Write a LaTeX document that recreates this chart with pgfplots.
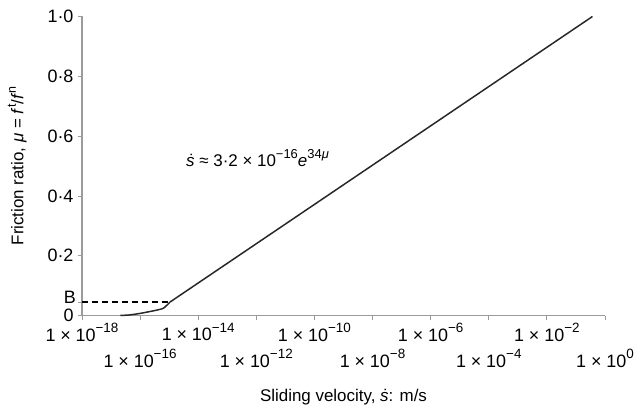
\documentclass[border=0pt]{standalone}
\usepackage{fontspec}
\setmainfont{Liberation Sans}
\usepackage{pgfplots}
\pgfplotsset{compat=1.18}
\definecolor{axisgray}{RGB}{155,155,155}
\definecolor{linegray}{RGB}{40,40,40}
% 1 x 10^k tick label in text font
\newcommand\sci[1]{1\hspace{0.27em}×\hspace{0.27em}10\raisebox{0.48em}{\fontsize{13.5}{13}\selectfont #1}}
\begin{document}
\begin{tikzpicture}
\begin{axis}[
  scale only axis,
  width=523bp, height=299bp,
  xmode=log,
  xmin=1e-18, xmax=1,
  ymin=0, ymax=1,
  axis lines*=left,
  axis line style={axisgray, line width=1.2pt},
  every tick/.style={axisgray, line width=0.8pt},
  tick align=outside,
  major tick length=4bp,
  minor tick num=0,
  xtick={1e-18,1e-14,1e-10,1e-6,1e-2},
  xticklabels={\sci{−18},\sci{−14},\sci{−10},\sci{−6},\sci{−2}},
  extra x ticks={1e-16,1e-12,1e-8,1e-4,1},
  extra x tick labels={\sci{−16},\sci{−12},\sci{−8},\sci{−4},\sci{0}},
  extra x tick style={tick label style={yshift=-26.5bp}},
  ytick={0,0.045,0.2,0.4,0.6,0.8,1.0},
  yticklabels={0,,0·2,0·4,0·6,0·8,1·0},
  tick label style={font=\fontsize{18}{18}\selectfont, text=black},
  yticklabel style={xshift=-1bp},
  xlabel={Sliding velocity, \textit{\.{s}}: m/s},
  ylabel={Friction ratio, \textit{μ} = \textit{f}\raisebox{0.45em}{\fontsize{12.5}{12}\selectfont t}/\textit{f}\raisebox{0.45em}{\fontsize{12.5}{12}\selectfont n}},
  label style={font=\fontsize{17}{17}\selectfont},
  xlabel style={yshift=-11bp},
  ylabel style={yshift=14bp},
  clip=false,
]
\coordinate (sw) at (rel axis cs:0,0);
\coordinate (ne) at (rel axis cs:1,1);
% label B, set a little above its tick as in the original
\node[anchor=east, font=\fontsize{18}{18}\selectfont, inner sep=0pt]
  at ([shift={(-6bp,4.5bp)}]axis cs:1e-18,0.045) {B};
% dashed reference line to B
\addplot[black, line width=1.2pt, dash pattern=on 6bp off 4bp] coordinates {
  (1e-18,0.045) (1.07e-15,0.045)
};
% friction curve
\addplot[linegray, line width=1.5pt, smooth, tension=0.3] coordinates {
  (2.1e-17,0.0)
  (4.5e-17,0.002)
  (1.0e-16,0.007)
  (3.0e-16,0.016)
  (6.3e-16,0.024)
  (1.07e-15,0.045)
};
\addplot[linegray, line width=1.5pt] coordinates {
  (1.07e-15,0.045)
  (3.7e-1,1.0)
};
\node[font=\fontsize{17}{17}\selectfont] at (axis cs:1.1e-12,0.527)
  {\textit{\.{s}} ≈ 3·2 × 10\raisebox{0.48em}{\fontsize{13}{13}\selectfont −16}\textit{e}\raisebox{0.48em}{\fontsize{13}{13}\selectfont 34\textit{μ}}};
\end{axis}
\pgfresetboundingbox
\path[use as bounding box] (sw) ++(-82bp,-91.5bp) rectangle ([shift={(32bp,16.5bp)}]ne);
\end{tikzpicture}
\end{document}
